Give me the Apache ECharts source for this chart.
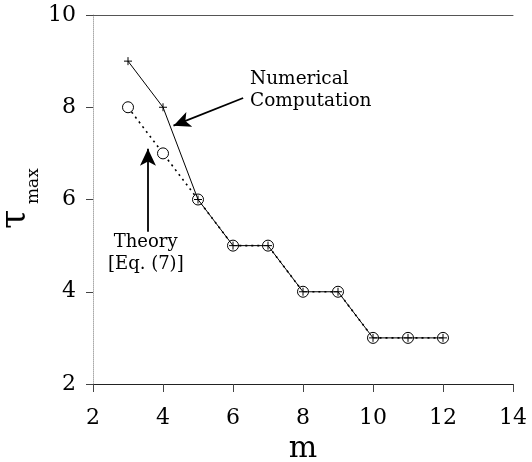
<!DOCTYPE html>
<html><head><meta charset="utf-8">
<script src="https://cdn.jsdelivr.net/npm/echarts@6/dist/echarts.min.js"></script>
<style>html,body{margin:0;padding:0;background:#fff}#c{width:532px;height:462px}</style>
</head><body><div id="c"></div>
<script>
const mValues = [3, 4, 5, 6, 7, 8, 9, 10, 11, 12];
const numerical = [9, 8, 6, 5, 5, 4, 4, 3, 3, 3];
const theory = [8, 7, 6, 5, 5, 4, 4, 3, 3, 3];
const xTicks = [2, 4, 6, 8, 10, 12, 14];
const yTicks = [2, 4, 6, 8, 10];

const serif = 'DejaVu Serif';
const plus = 'path://M5,0 L5,10 M0,5 L10,5';
const chart = echarts.init(document.getElementById('c'), null, {renderer: 'canvas'});
const toPairs = ys => mValues.map((m, i) => [m, ys[i]]);

chart.setOption({
  animation: false,
  backgroundColor: '#fff',
  grid: {left: 93, right: 19, top: 15, bottom: 78, containLabel: false, outerBoundsMode: 'none'},
  xAxis: [{
    type: 'value', min: xTicks[0], max: xTicks[xTicks.length - 1], interval: 2,
    name: 'm', nameLocation: 'middle', nameGap: 41,
    nameTextStyle: {fontFamily: serif, fontSize: 30, color: '#000'},
    axisLine: {show: true, lineStyle: {color: '#222', width: 1}},
    axisTick: {show: true, length: 8, lineStyle: {color: '#444'}},
    axisLabel: {fontFamily: serif, fontSize: 22, color: '#000', margin: 23},
    splitLine: {show: false}
  }, {
    type: 'value', position: 'top', min: xTicks[0], max: xTicks[xTicks.length - 1], interval: 2,
    axisLine: {show: true, lineStyle: {color: '#555', width: 1}},
    axisTick: {show: false}, axisLabel: {show: false}, splitLine: {show: false}
  }],
  yAxis: {
    type: 'value', min: yTicks[0], max: yTicks[yTicks.length - 1], interval: 2,
    axisLine: {show: true, lineStyle: {color: '#aaa', width: 1, type: 'dotted'}},
    axisTick: {show: true, length: 7, lineStyle: {color: '#444'}},
    axisLabel: {fontFamily: serif, fontSize: 22, color: '#000', margin: 17},
    splitLine: {show: false}
  },
  series: [{
    name: 'Theory', type: 'line', data: toPairs(theory),
    symbol: 'circle', symbolSize: 11, showSymbol: true,
    lineStyle: {color: '#000', width: 1.6, type: [2, 4]},
    itemStyle: {color: '#fff', borderColor: '#000', borderWidth: 1},
    z: 2
  }, {
    name: 'Numerical', type: 'line', data: toPairs(numerical),
    symbol: plus, symbolSize: 8, showSymbol: true,
    lineStyle: {color: '#000', width: 1},
    itemStyle: {color: 'none', borderColor: '#000', borderWidth: 1},
    z: 3,
    markLine: {
      silent: true, symbol: ['none', 'arrow'], symbolSize: [12, 17],
      lineStyle: {color: '#000', width: 1.8, type: 'solid'},
      label: {show: false},
      data: [
        [{coord: [6.29, 8.2]}, {coord: [4.3, 7.6]}],
        [{coord: [3.57, 5.3]}, {coord: [3.57, 7.1]}]
      ]
    }
  }],
  graphic: [
    {type: 'text', left: 250, top: 68, style: {text: 'Numerical\nComputation', font: '18.5px "DejaVu Serif"', fill: '#000', lineHeight: 22}},
    {type: 'text', left: 108, top: 231, style: {text: ' Theory\n[Eq. (7)]', font: '18px "DejaVu Serif"', fill: '#000', lineHeight: 22}},
    {type: 'text', x: -2, y: 229, rotation: Math.PI / 2, style: {text: 'τ', font: '35px "DejaVu Serif"', fill: '#000'}},
    {type: 'text', x: 25, y: 204, rotation: Math.PI / 2, style: {text: 'max', font: '17px "DejaVu Serif"', fill: '#000'}}
  ]
});
</script></body></html>
